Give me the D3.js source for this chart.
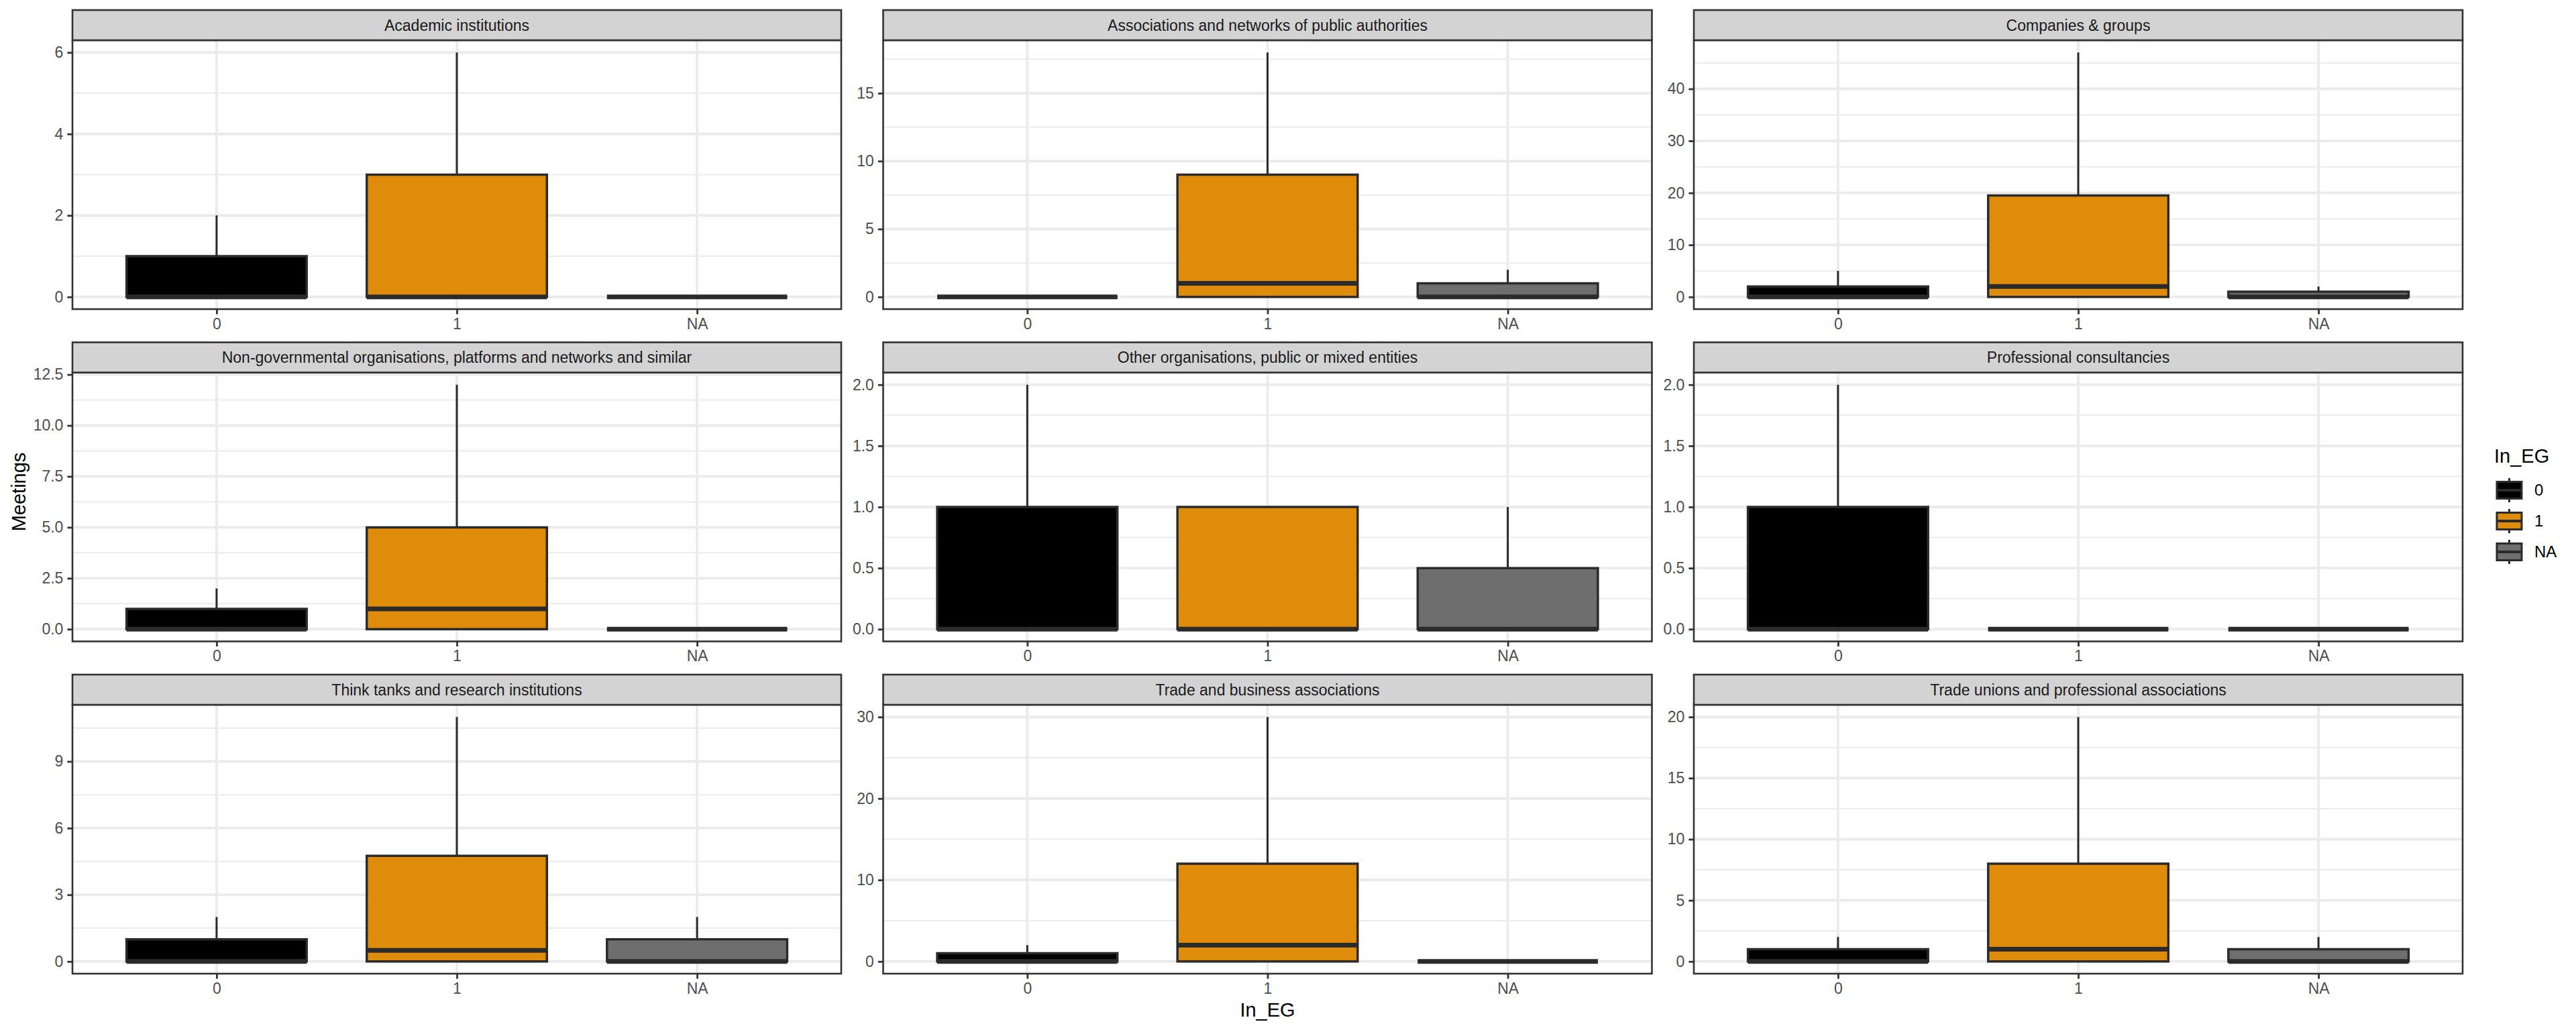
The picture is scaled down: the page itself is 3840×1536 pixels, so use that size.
<!DOCTYPE html>
<html><head><meta charset="utf-8">
<script src="https://cdn.jsdelivr.net/npm/d3@7"></script>
<style>body{margin:0;background:#fff} svg{display:block}</style>
</head><body>
<svg id="chart" width="3840" height="1536"></svg>
<script>
// ---------- data ----------
const panelTitles = [
  "Academic institutions",
  "Associations and networks of public authorities",
  "Companies & groups",
  "Non-governmental organisations, platforms and networks and similar",
  "Other organisations, public or mixed entities",
  "Professional consultancies",
  "Think tanks and research institutions",
  "Trade and business associations",
  "Trade unions and professional associations"
];
const groups = ["0", "1", "NA"];
// per panel: values for groups 0, 1, NA
const lowerWhisker = [[0,0,0],[0,0,0],[0,0,0],[0,0,0],[0,0,0],[0,0,0],[0,0,0],[0,0,0],[0,0,0]];
const q1           = [[0,0,0],[0,0,0],[0,0,0],[0,0,0],[0,0,0],[0,0,0],[0,0,0],[0,0,0],[0,0,0]];
const median       = [[0,0,0],[0,1,0],[0,2,0],[0,1,0],[0,0,0],[0,0,0],[0,0.5,0],[0,2,0],[0,1,0]];
const q3           = [[1,3,0],[0,9,1],[2,19.5,1],[1,5,0],[1,1,0.5],[1,0,0],[1,4.75,1],[1,12,0],[1,8,1]];
const upperWhisker = [[2,6,0],[0,18,2],[5,47,2],[2,12,0],[2,1,1],[2,0,0],[2,11,2],[2,30,0],[2,20,2]];
const yTickValues = [
  [0,2,4,6],[0,5,10,15],[0,10,20,30,40],
  [0,2.5,5,7.5,10,12.5],[0,0.5,1,1.5,2],[0,0.5,1,1.5,2],
  [0,3,6,9],[0,10,20,30],[0,5,10,15,20]
];
const yTickLabels = [
  ["0","2","4","6"],["0","5","10","15"],["0","10","20","30","40"],
  ["0.0","2.5","5.0","7.5","10.0","12.5"],["0.0","0.5","1.0","1.5","2.0"],["0.0","0.5","1.0","1.5","2.0"],
  ["0","3","6","9"],["0","10","20","30"],["0","5","10","15","20"]
];
const fillColors = ["#000000", "#DF8C0A", "#6E6E6E"];
const xTitle = "In_EG";
const yTitle = "Meetings";
const legendTitle = "In_EG";

// ---------- layout ----------
const colX = [108, 1316.5, 2525];
const rowY = [15, 510.5, 1006];
const panelW = 1146, stripH = 45, plotH = 401;
const FONT = "'Liberation Sans', Arial, Helvetica, sans-serif";
const smallFont = 23, titleFont = 29;
const dark = "#333333";
const gridCol = "#EBEBEB";
const boxStroke = "#2B2B2B";

const svg = d3.select("#chart");
svg.append("rect").attr("width",3840).attr("height",1536).attr("fill","#fff");

panelTitles.forEach((title, p) => {
  const col = p % 3, row = Math.floor(p / 3);
  const g = svg.append("g").attr("transform", `translate(${colX[col]},${rowY[row]})`);
  const plot = g.append("g").attr("transform", `translate(0,${stripH})`);

  const lo = d3.min(lowerWhisker[p]), hi = d3.max(upperWhisker[p]);
  const pad = (hi - lo) * 0.05;
  const y = d3.scaleLinear().domain([lo - pad, hi + pad]).range([plotH, 0]);
  const x = d3.scalePoint().domain(groups).range([0, panelW]).padding(0.6);
  const step = x.step();
  const bw = step * 0.75;

  // minor grid: midpoints between major ticks (and beyond, if inside domain)
  const maj = yTickValues[p];
  const st = maj[1] - maj[0];
  const minors = [];
  for (let v = maj[0] - st / 2; v <= y.domain()[1]; v += st) {
    if (v >= y.domain()[0]) minors.push(v);
  }
  plot.append("g").selectAll("line").data(minors).join("line")
    .attr("x1", 0).attr("x2", panelW)
    .attr("y1", d => y(d)).attr("y2", d => y(d))
    .attr("stroke", gridCol).attr("stroke-width", 2);
  plot.append("g").selectAll("line").data(maj).join("line")
    .attr("x1", 0).attr("x2", panelW)
    .attr("y1", d => y(d)).attr("y2", d => y(d))
    .attr("stroke", gridCol).attr("stroke-width", 3.8);
  plot.append("g").selectAll("line").data(groups).join("line")
    .attr("x1", d => x(d)).attr("x2", d => x(d))
    .attr("y1", 0).attr("y2", plotH)
    .attr("stroke", gridCol).attr("stroke-width", 3.8);

  // boxes
  groups.forEach((grp, i) => {
    const cx = x(grp);
    const bg = plot.append("g");
    bg.append("line").attr("x1", cx).attr("x2", cx)
      .attr("y1", y(q3[p][i])).attr("y2", y(upperWhisker[p][i]))
      .attr("stroke", boxStroke).attr("stroke-width", 3);
    bg.append("line").attr("x1", cx).attr("x2", cx)
      .attr("y1", y(q1[p][i])).attr("y2", y(lowerWhisker[p][i]))
      .attr("stroke", boxStroke).attr("stroke-width", 3);
    const x0 = cx - bw / 2, x1 = cx + bw / 2, yt = y(q3[p][i]), yb = y(q1[p][i]);
    bg.append("path")
      .attr("d", `M${x0},${yt}L${x1},${yt}L${x1},${yb}L${x0},${yb}Z`)
      .attr("fill", fillColors[i]).attr("stroke", boxStroke).attr("stroke-width", 3.5);
    bg.append("line").attr("x1", x0).attr("x2", x1)
      .attr("y1", y(median[p][i])).attr("y2", y(median[p][i]))
      .attr("stroke", boxStroke).attr("stroke-width", 7);
  });

  // panel border
  plot.append("rect").attr("x", 0).attr("y", 0).attr("width", panelW).attr("height", plotH)
    .attr("fill", "none").attr("stroke", dark).attr("stroke-width", 2.6);

  // axes
  const ya = d3.axisLeft(y).tickValues(maj).tickFormat((d, k) => yTickLabels[p][k])
    .tickSize(7.6).tickPadding(6);
  const yg = plot.append("g").call(ya);
  yg.select(".domain").remove();
  yg.selectAll(".tick line").attr("stroke", dark).attr("stroke-width", 2.8);
  yg.selectAll(".tick text").attr("fill", "#4D4D4D").style("font-family", FONT).style("font-size", smallFont + "px");

  const xa = d3.axisBottom(x).tickSize(7.6).tickPadding(6);
  const xg = plot.append("g").attr("transform", `translate(0,${plotH})`).call(xa);
  xg.select(".domain").remove();
  xg.selectAll(".tick line").attr("stroke", dark).attr("stroke-width", 2.8);
  xg.selectAll(".tick text").attr("fill", "#4D4D4D").style("font-family", FONT).style("font-size", smallFont + "px");

  // strip
  g.append("rect").attr("x", 0).attr("y", 0).attr("width", panelW).attr("height", stripH)
    .attr("fill", "#D3D3D3").attr("stroke", dark).attr("stroke-width", 2.6);
  g.append("text").attr("x", panelW / 2).attr("y", stripH / 2).attr("dy", "0.35em")
    .attr("text-anchor", "middle").attr("fill", "#1A1A1A")
    .style("font-family", FONT).style("font-size", smallFont + "px").text(title);
});

// axis titles
svg.append("text").attr("x", (colX[0] + colX[2] + panelW) / 2).attr("y", 1506).attr("dy", "0.35em")
  .attr("text-anchor", "middle").style("font-family", FONT).style("font-size", titleFont + "px")
  .attr("fill", "#000").text(xTitle);
svg.append("text").attr("transform", `translate(28,${(rowY[0] + rowY[2] + stripH + plotH) / 2}) rotate(-90)`)
  .attr("dy", "0.35em").attr("text-anchor", "middle").style("font-family", FONT)
  .style("font-size", titleFont + "px").attr("fill", "#000").text(yTitle);

// legend
const lg = svg.append("g").attr("transform", "translate(3718,0)");
lg.append("text").attr("x", 0).attr("y", 690).style("font-family", FONT).style("font-size", titleFont + "px")
  .attr("fill", "#000").text(legendTitle);
groups.forEach((grp, i) => {
  const cy = 731 + i * 46;
  const k = lg.append("g").attr("transform", `translate(4,${cy})`);
  k.append("line").attr("x1", 18.5).attr("x2", 18.5).attr("y1", -18).attr("y2", 18)
    .attr("stroke", boxStroke).attr("stroke-width", 3);
  k.append("rect").attr("x", 0).attr("y", -12.5).attr("width", 37).attr("height", 25)
    .attr("fill", fillColors[i]).attr("stroke", boxStroke).attr("stroke-width", 3);
  k.append("line").attr("x1", 0).attr("x2", 37).attr("y1", 0).attr("y2", 0)
    .attr("stroke", boxStroke).attr("stroke-width", 4);
  lg.append("text").attr("x", 60).attr("y", cy).attr("dy", "0.35em")
    .style("font-family", FONT).style("font-size", smallFont + 1 + "px").attr("fill", "#000").text(grp);
});
</script>
</body></html>
